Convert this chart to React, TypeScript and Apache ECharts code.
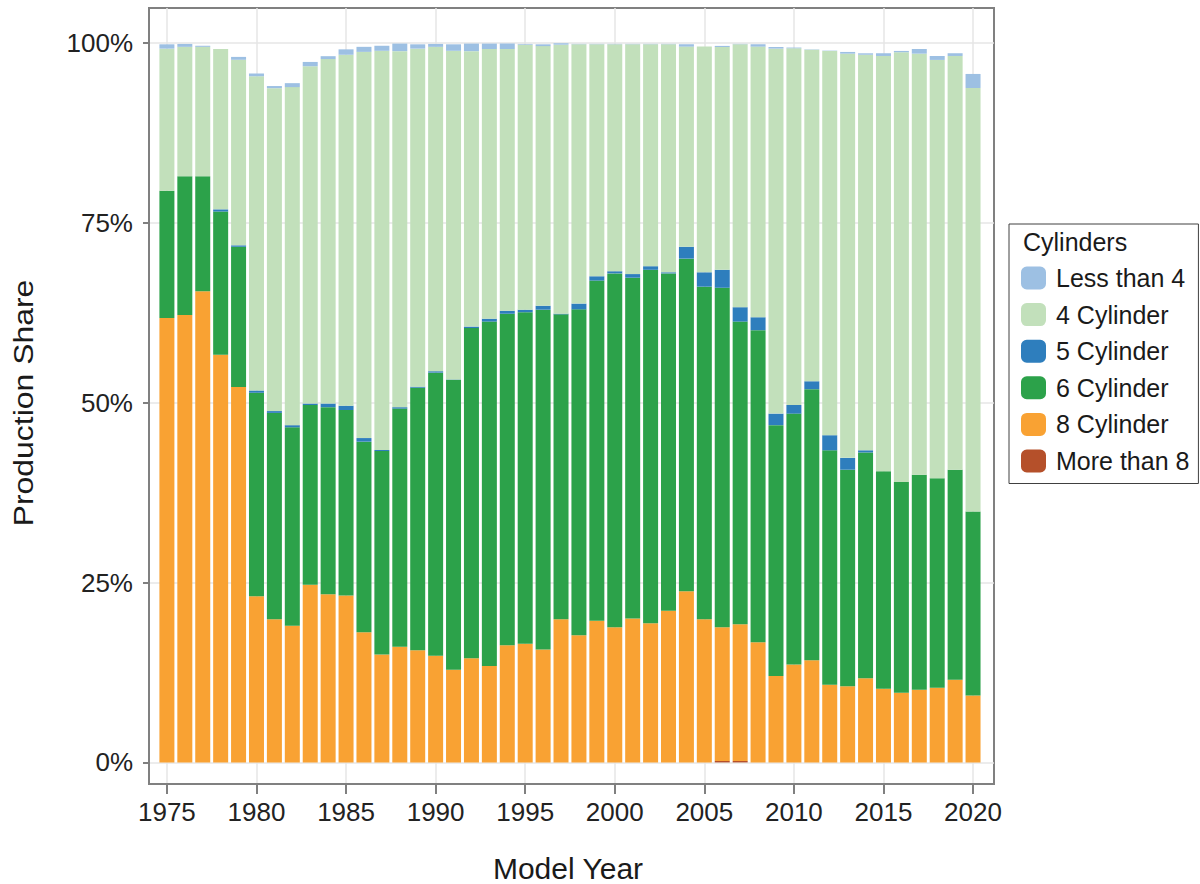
import React, { useEffect, useRef } from "react";
import * as echarts from "echarts";

const years = [
  1975, 1976, 1977, 1978, 1979, 1980, 1981, 1982, 1983, 1984, 1985, 1986, 1987, 1988, 1989, 1990,
  1991, 1992, 1993, 1994, 1995, 1996, 1997, 1998, 1999, 2000, 2001, 2002, 2003, 2004, 2005, 2006,
  2007, 2008, 2009, 2010, 2011, 2012, 2013, 2014, 2015, 2016, 2017, 2018, 2019, 2020,
];

const moreThan8 = [
  0, 0, 0, 0, 0, 0, 0, 0, 0, 0, 0, 0, 0, 0, 0, 0,
  0, 0, 0, 0, 0, 0, 0, 0, 0, 0, 0, 0, 0, 0, 0, 0.2,
  0.2, 0, 0, 0, 0, 0, 0, 0, 0, 0, 0, 0, 0, 0,
];

const cyl8 = [
  61.8, 62.2, 65.5, 56.7, 52.2, 23.1, 19.9, 19.0, 24.7, 23.4, 23.2, 18.1, 15.0, 16.1, 15.6, 14.85,
  12.9, 14.5, 13.4, 16.3, 16.5, 15.7, 19.9, 17.7, 19.7, 18.8, 20.0, 19.35, 21.1, 23.8, 19.9, 18.6,
  19.0, 16.7, 12.0, 13.6, 14.2, 10.8, 10.6, 11.7, 10.25, 9.7, 10.1, 10.4, 11.5, 9.3,
];

const cyl6 = [
  17.7, 19.3, 16.0, 19.9, 19.5, 28.3, 28.7, 27.6, 25.0, 26.0, 25.8, 26.5, 28.3, 33.1, 36.5, 39.35,
  40.3, 45.9, 47.9, 46.1, 46.1, 47.25, 42.4, 45.3, 47.3, 49.2, 47.4, 49.15, 46.9, 46.25, 46.25, 47.2,
  42.1, 43.4, 34.9, 34.9, 37.7, 32.6, 30.1, 31.4, 30.25, 29.3, 29.9, 29.1, 29.2, 25.6,
];

const cyl5 = [
  0, 0, 0, 0.3, 0.2, 0.3, 0.25, 0.3, 0.2, 0.5, 0.6, 0.5, 0.15, 0.2, 0.15, 0.2,
  0.05, 0.2, 0.4, 0.4, 0.35, 0.55, 0.1, 0.8, 0.6, 0.3, 0.5, 0.5, 0.15, 1.65, 2.0, 2.5,
  2.0, 1.8, 1.6, 1.2, 1.1, 2.1, 1.65, 0.3, 0, 0, 0, 0, 0, 0,
];

const cyl4 = [
  19.75, 18.0, 18.0, 22.3, 25.8, 43.7, 44.9, 47.0, 46.9, 47.9, 48.8, 53.7, 55.5, 49.5, 47.0, 45.1,
  45.7, 38.3, 37.5, 36.4, 36.85, 36.1, 37.4, 36.06, 32.26, 31.56, 31.96, 30.86, 31.71, 27.83, 31.38, 30.98,
  36.56, 37.63, 50.75, 49.6, 46.1, 53.43, 56.2, 55.0, 57.73, 59.75, 58.55, 58.18, 57.53, 58.88,
];

const lessThan4 = [
  0.6, 0.4, 0.15, 0, 0.4, 0.4, 0.3, 0.55, 0.6, 0.4, 0.75, 0.7, 0.7, 1.05, 0.6, 0.4,
  0.9, 1.05, 0.75, 0.75, 0.1, 0.25, 0.2, 0.05, 0.05, 0.05, 0.05, 0.05, 0.05, 0.33, 0, 0.15,
  0.05, 0.33, 0.23, 0.1, 0.05, 0.05, 0.24, 0.2, 0.38, 0.18, 0.65, 0.55, 0.38, 1.95,
];

const xTickValues = [1975, 1980, 1985, 1990, 1995, 2000, 2005, 2010, 2015, 2020];
const yTickValues = [0, 25, 50, 75, 100];

const seriesNames = ["More than 8", "8 Cylinder", "6 Cylinder", "5 Cylinder", "4 Cylinder", "Less than 4"];
const seriesValues = [moreThan8, cyl8, cyl6, cyl5, cyl4, lessThan4];
const seriesColors = ["#b5502a", "#f9a233", "#2ca24a", "#2e7ebd", "#c2e0bb", "#9dc0e3"];
const legendOrder = ["Less than 4", "4 Cylinder", "5 Cylinder", "6 Cylinder", "8 Cylinder", "More than 8"];

const FONT = "'Liberation Sans', Arial, sans-serif";

export default function App() {
  const ref = useRef<HTMLDivElement>(null);

  useEffect(() => {
    if (!ref.current) return;
    const chart = echarts.init(ref.current, undefined, { renderer: "svg" });

    // value first, year second, so that stacking applies to the value dimension
    const series = seriesNames.map((name, k) => ({
      name,
      type: "bar",
      stack: "total",
      barWidth: 15,
      dimensions: [
        { name: "share", type: "float" },
        { name: "year", type: "float" },
      ],
      encode: { x: 1, y: 0 },
      itemStyle: { color: seriesColors[k] },
      emphasis: { disabled: true },
      data: years.map((y, i) => [seriesValues[k][i], y]),
    }));

    chart.setOption({
      animation: false,
      backgroundColor: "#ffffff",
      textStyle: { fontFamily: FONT },
      grid: {
        left: 149,
        top: 8,
        right: 206,
        bottom: 100,
        show: true,
        borderColor: "#808080",
        borderWidth: 2,
        backgroundColor: "transparent",
      },
      xAxis: {
        type: "value",
        min: 1974,
        max: 2021.17,
        axisLine: { show: true, onZero: false, lineStyle: { color: "#808080", width: 2 } },
        axisTick: {
          show: true,
          length: 10,
          customValues: xTickValues,
          lineStyle: { color: "#808080", width: 2 },
        },
        axisLabel: {
          customValues: xTickValues,
          fontSize: 26,
          color: "#222222",
          margin: 15,
          fontFamily: FONT,
          formatter: (v: number) => String(v),
        },
        splitLine: { show: true, lineStyle: { color: "#e6e6e6", width: 1.5 } },
      },
      yAxis: {
        type: "value",
        min: -3,
        max: 104.9,
        axisLine: { show: true, lineStyle: { color: "#808080", width: 2 } },
        axisTick: {
          show: true,
          length: 6,
          customValues: yTickValues,
          lineStyle: { color: "#808080", width: 2 },
        },
        axisLabel: {
          customValues: yTickValues,
          fontSize: 26,
          color: "#222222",
          margin: 16,
          fontFamily: FONT,
          formatter: (v: number) => v + "%",
        },
        splitLine: { show: true, lineStyle: { color: "#e6e6e6", width: 1.5 } },
      },
      legend: {
        orient: "vertical",
        left: 1009,
        top: 224,
        data: legendOrder,
        selectedMode: false,
        itemWidth: 25,
        itemHeight: 23,
        itemGap: 11.6,
        padding: [41.5, 9, 10, 12],
        backgroundColor: "#ffffff",
        borderColor: "#404040",
        borderWidth: 1,
        textStyle: {
          fontSize: 25,
          color: "#1a1a1a",
          fontFamily: FONT,
          lineHeight: 23,
          padding: [0, 0, 0, 5],
        },
      },
      graphic: [
        {
          type: "text",
          left: 1023,
          top: 229,
          z: 100,
          style: { text: "Cylinders", fontSize: 25, fill: "#1a1a1a", fontFamily: FONT },
        },
        {
          type: "text",
          x: 568,
          y: 868,
          z: 100,
          style: {
            text: "Model Year",
            fontSize: 30,
            fill: "#1a1a1a",
            fontFamily: FONT,
            align: "center",
            verticalAlign: "middle",
          },
        },
        {
          type: "text",
          x: 23,
          y: 403,
          rotation: Math.PI / 2,
          scaleX: 1.14,
          z: 100,
          style: {
            text: "Production Share",
            fontSize: 28,
            fill: "#1a1a1a",
            fontFamily: FONT,
            align: "center",
            verticalAlign: "middle",
          },
        },
      ],
      series,
    });

    return () => chart.dispose();
  }, []);

  return (
    <div
      ref={ref}
      style={{ position: "fixed", left: 0, top: 0, width: 1200, height: 884, background: "#fff" }}
    />
  );
}
